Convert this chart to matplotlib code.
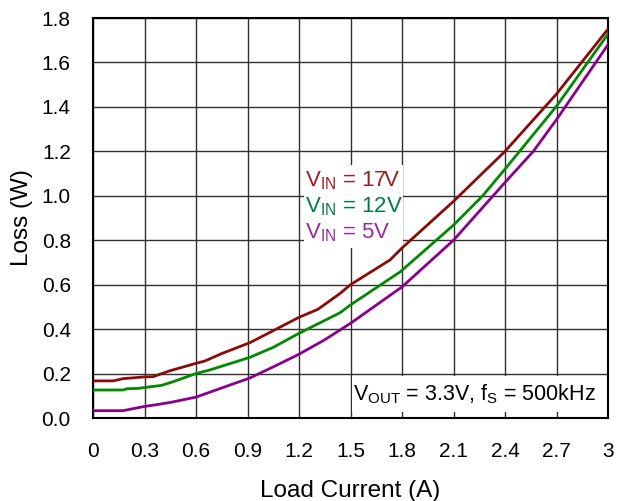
import matplotlib
matplotlib.use("Agg")
import matplotlib.pyplot as plt
from matplotlib.patches import Rectangle

plt.rcParams['font.family'] = ['Liberation Sans', 'DejaVu Sans']
plt.rcParams['mathtext.fontset'] = 'custom'
plt.rcParams['mathtext.rm'] = 'Liberation Sans'
plt.rcParams['mathtext.it'] = 'Liberation Sans'

x_17 = [0, 0.117, 0.175, 0.3, 0.35, 0.45, 0.6, 0.65, 0.75, 0.914, 1.05, 1.2, 1.31, 1.44, 1.5, 1.73, 1.8, 2.1, 2.4, 2.7, 3.0]
y_17 = [0.167, 0.167, 0.177, 0.185, 0.186, 0.213, 0.246, 0.256, 0.29, 0.339, 0.393, 0.453, 0.489, 0.561, 0.6, 0.711, 0.765, 0.975, 1.2, 1.458, 1.75]

x_12 = [0, 0.175, 0.2, 0.26, 0.37, 0.4, 0.466, 0.6, 0.68, 0.914, 1.05, 1.2, 1.44, 1.5, 1.79, 2.1, 2.27, 2.4, 2.7, 3.0]
y_12 = [0.126, 0.126, 0.132, 0.133, 0.144, 0.147, 0.163, 0.2, 0.216, 0.273, 0.318, 0.381, 0.474, 0.509, 0.658, 0.868, 1.0, 1.12, 1.403, 1.728]

x_5 = [0, 0.175, 0.3, 0.37, 0.45, 0.6, 0.76, 0.914, 1.05, 1.2, 1.35, 1.5, 1.8, 2.1, 2.4, 2.565, 2.7, 3.0]
y_5 = [0.033, 0.033, 0.052, 0.06, 0.07, 0.094, 0.138, 0.18, 0.23, 0.287, 0.352, 0.426, 0.59, 0.80, 1.06, 1.2, 1.343, 1.68]

xticks = [0, 0.3, 0.6, 0.9, 1.2, 1.5, 1.8, 2.1, 2.4, 2.7, 3.0]
xticklabels = ['0', '0.3', '0.6', '0.9', '1.2', '1.5', '1.8', '2.1', '2.4', '2.7', '3']
yticks = [0.0, 0.2, 0.4, 0.6, 0.8, 1.0, 1.2, 1.4, 1.6, 1.8]
yticklabels = ['0.0', '0.2', '0.4', '0.6', '0.8', '1.0', '1.2', '1.4', '1.6', '1.8']

fig = plt.figure(figsize=(6.17, 5.01), dpi=100)
ax = fig.add_axes([93/617, 1 - 418/501, (608-93)/617, (418-18)/501])

c17, c12, c5 = '#8B0A0A', '#008A00', '#8B008B'
ax.plot(x_17, y_17, color=c17, lw=2, zorder=3)
ax.plot(x_12, y_12, color=c12, lw=2, zorder=3)
ax.plot(x_5, y_5, color=c5, lw=2, zorder=3)

ax.set_xlim(0, 3)
ax.set_ylim(0, 1.8)
ax.set_xticks(xticks)
ax.set_xticklabels(xticklabels)
ax.set_yticks(yticks)
ax.set_yticklabels(yticklabels)
ax.tick_params(length=0, labelsize=15, pad=16)
ax.tick_params(axis='x', pad=17)
ax.grid(True, color='#303030', lw=1.0)
ax.set_axisbelow(True)
for s in ax.spines.values():
    s.set_linewidth(1.5)

ax.set_xlabel('Load Current (A)', fontsize=17.5, labelpad=14)
ax.set_ylabel('Loss (W)', fontsize=17.5, labelpad=6)

def pxrect(x0, y0, x1, y1):
    X0 = (x0 - 93) / (515/3)
    X1 = (x1 - 93) / (515/3)
    Y0 = (418 - y1) / (400/1.8)
    Y1 = (418 - y0) / (400/1.8)
    ax.add_patch(Rectangle((X0, Y0), X1 - X0, Y1 - Y0, facecolor='white', edgecolor='none', zorder=1.5))

pxrect(304, 165, 403, 248)
pxrect(352, 376, 607, 412)

ax.text(1.235, 1.04, r'V$_{\mathrm{IN}}$ = 17V', color='#9A1F1F', fontsize=16, zorder=4, va='baseline')
ax.text(1.235, 0.927, r'V$_{\mathrm{IN}}$ = 12V', color='#007A48', fontsize=16, zorder=4, va='baseline')
ax.text(1.235, 0.81, r'V$_{\mathrm{IN}}$ = 5V', color='#9A2A9A', fontsize=16, zorder=4, va='baseline')
ax.text(1.515, 0.081, r'V$_{\mathrm{OUT}}$ = 3.3V, f$_{\mathrm{S}}$ = 500kHz', color='black', fontsize=15.5, zorder=4, va='baseline')

fig.savefig('out.png', dpi=100)
